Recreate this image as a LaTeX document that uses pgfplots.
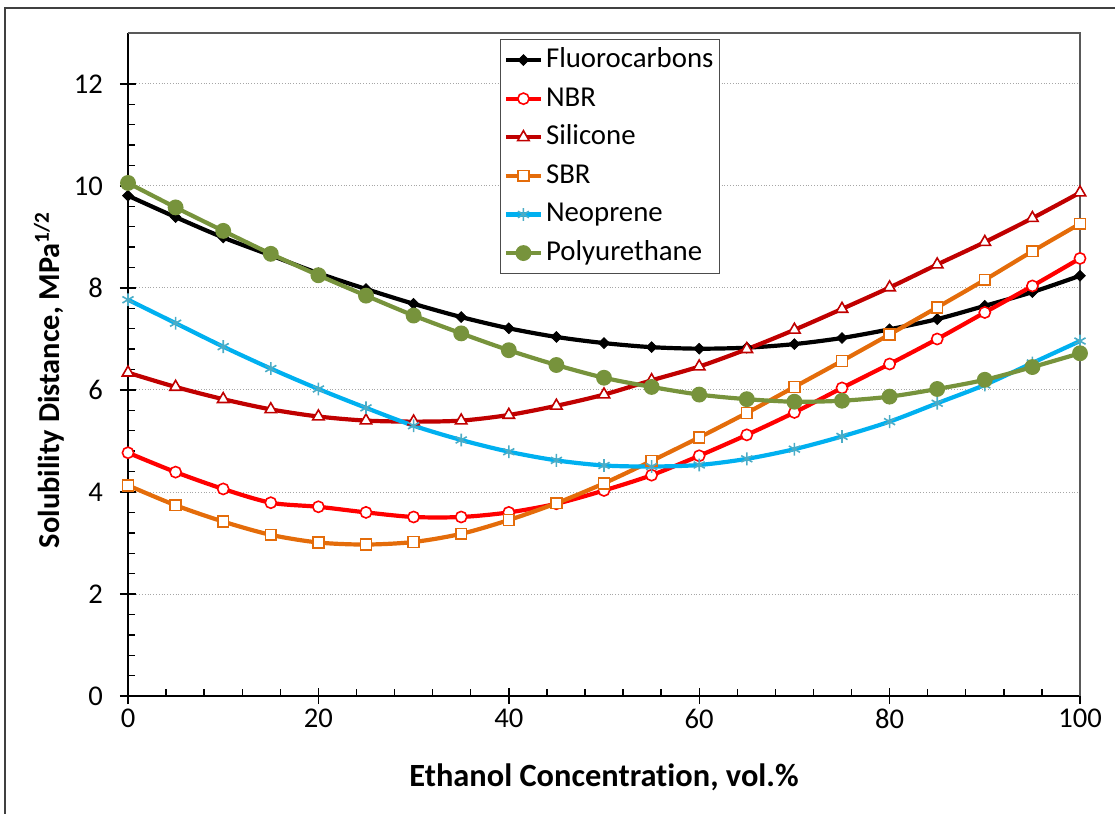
\documentclass[border=0pt]{standalone}
\usepackage{pgfplots}
\pgfplotsset{compat=1.18}
\usepackage{pgfplotstable}
\usepackage{fontspec}
\setmainfont[Ligatures=NoCommon]{Carlito}
\definecolor{nbrc}{RGB}{255,0,0}
\definecolor{silc}{RGB}{192,0,0}
\definecolor{sbrc}{RGB}{228,108,10}
\definecolor{neoc}{RGB}{0,176,240}
\definecolor{neom}{RGB}{75,172,198}
\definecolor{puc}{RGB}{119,147,60}
\pgfplotstableread{
x fl nbr sil sbr neo pu
0 9.81 4.77 6.34 4.13 7.77 10.06
5 9.39 4.39 6.06 3.74 7.31 9.58
10 8.99 4.06 5.82 3.42 6.85 9.12
15 8.64 3.79 5.62 3.16 6.42 8.67
20 8.29 3.71 5.48 3.01 6.02 8.25
25 7.98 3.60 5.40 2.97 5.65 7.85
30 7.69 3.51 5.38 3.02 5.30 7.46
35 7.43 3.51 5.40 3.18 5.02 7.11
40 7.21 3.60 5.51 3.45 4.79 6.78
45 7.04 3.77 5.69 3.78 4.62 6.49
50 6.92 4.03 5.91 4.17 4.52 6.24
55 6.84 4.33 6.19 4.61 4.50 6.06
60 6.81 4.71 6.46 5.07 4.53 5.91
65 6.83 5.12 6.80 5.55 4.65 5.82
70 6.90 5.56 7.18 6.06 4.84 5.77
75 7.02 6.04 7.59 6.57 5.09 5.79
80 7.19 6.51 8.01 7.09 5.38 5.87
85 7.39 7.00 8.46 7.62 5.74 6.02
90 7.65 7.52 8.90 8.16 6.10 6.20
95 7.92 8.04 9.37 8.72 6.53 6.45
100 8.24 8.58 9.87 9.26 6.96 6.72
}\data
\begin{document}
\begin{tikzpicture}
\begin{axis}[
  at={(0,0)}, anchor=south west, scale only axis,
  width=476pt, height=331.5pt,
  xmin=0, xmax=100, ymin=0, ymax=13,
  xtick={0,20,...,100}, ytick={0,2,...,12},
  minor x tick num=4, minor y tick num=4,
  axis lines=left, axis line style={-, line width=1.2pt, black},
  tick align=inside, major tick length=8pt, minor tick length=3.5pt,
  tick style={black, line width=0.7pt},
  every major x tick/.append style={yshift=-4pt},
  every major y tick/.append style={xshift=-4pt},
  ymajorgrids, grid style={densely dotted, gray!70, line width=0.5pt},
  /pgf/number format/assume math mode=true,
  tick label style={font=\fontsize{14.3}{16}\selectfont},
  yticklabel style={xshift=-9pt},
  xticklabel style={yshift=-3pt},
  xlabel={\bfseries Ethanol Concentration, vol.\%},
  ylabel={\bfseries Solubility Distance, MPa\textsuperscript{1/2}},
  xlabel style={at={(axis description cs:0.5,-0.122)}, anchor=center, font=\fontsize{16.2}{18}\selectfont},
  ylabel style={at={(axis description cs:-0.083,0.477)}, anchor=center, font=\fontsize{15.2}{18}\selectfont},
  clip=false,
  legend cell align=left,
  legend style={at={(0.391,0.991)}, anchor=north west, draw=gray!60!black, line width=0.6pt,
    font=\fontsize{14.4}{17}\selectfont, inner sep=1.5pt, row sep=1.8pt,
    nodes={inner sep=1.5pt, text height=11pt, text depth=3.5pt}},
  legend image code/.code={\draw[mark repeat=2,mark phase=2,#1] plot coordinates {(0pt,0pt)(8.75pt,0pt)(17.5pt,0pt)};},
  every axis plot/.append style={line width=2.1pt, smooth, tension=0.5},
]
\addplot[black, mark=square*, mark size=1.9pt, mark options={solid, rotate=45, line width=0.4pt}] table[x=x,y=fl]{\data};
\addlegendentry{Fluorocarbons}
\addplot[nbrc, mark=*, mark size=2.8pt, mark options={solid, fill=white, draw=nbrc, line width=0.8pt}] table[x=x,y=nbr]{\data};
\addlegendentry{NBR}
\addplot[silc, mark=triangle*, mark size=3.3pt, mark options={solid, fill=white, draw=silc, line width=0.8pt}] table[x=x,y=sil]{\data};
\addlegendentry{Silicone}
\addplot[sbrc, mark=square*, mark size=2.7pt, mark options={solid, fill=white, draw=sbrc, line width=0.8pt}] table[x=x,y=sbr]{\data};
\addlegendentry{SBR}
\addplot[neoc, mark=asterisk, mark size=3.2pt, mark options={solid, draw=neom, line width=0.8pt}] table[x=x,y=neo]{\data};
\addlegendentry{Neoprene}
\addplot[puc, mark=*, mark size=2.9pt, mark options={solid, fill=puc, draw=puc}] table[x=x,y=pu]{\data};
\addlegendentry{Polyurethane}
\draw[gray!70!black, line width=0.6pt] (rel axis cs:0,1) -- (rel axis cs:1,1) -- (rel axis cs:1,0);
\end{axis}
\draw[line width=0.8pt, black!75] (-61.5pt,-62pt) -- (-61.5pt,344pt) -- (496pt,344pt);
\pgfresetboundingbox
\useasboundingbox (-64pt,-59pt) rectangle (493.5pt,348pt);
\end{tikzpicture}
\end{document}
